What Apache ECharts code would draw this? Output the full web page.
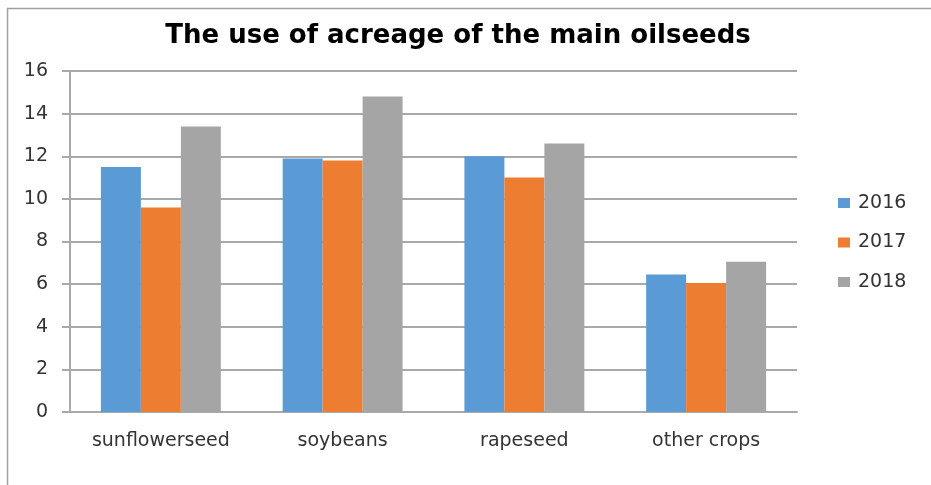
<!DOCTYPE html>
<html>
<head>
<meta charset="utf-8">
<script src="https://cdn.jsdelivr.net/npm/echarts@6/dist/echarts.min.js"></script>
<style>
  html, body { margin: 0; padding: 0; background: #fff; }
  #chart { width: 931px; height: 485px; }
</style>
</head>
<body>
<div id="chart"></div>
<script>
// data
const categories = ['sunflowerseed', 'soybeans', 'rapeseed', 'other crops']
const years = ['2016', '2017', '2018']
const values2016 = [11.5, 11.9, 12.0, 6.45]
const values2017 = [9.6, 11.8, 11.0, 6.05]
const values2018 = [13.4, 14.8, 12.6, 7.05]
const yTicks = [0, 2, 4, 6, 8, 10, 12, 14, 16]

const colors = ['#5b9bd5', '#ed7d31', '#a5a5a5']
const FONT = 'DejaVu Sans'
const TEXT = '#333'
const LINE = '#a9a9a9'

const chart = echarts.init(document.getElementById('chart'), null, { renderer: 'canvas' })

const seriesValues = [values2016, values2017, values2018]

chart.setOption({
  animation: false,
  backgroundColor: '#fff',
  color: colors,
  title: {
    text: 'The use of acreage of the main oilseeds',
    left: 453,
    top: 18,
    textAlign: 'center',
    textStyle: { fontFamily: FONT, fontSize: 26, fontWeight: 'bold', color: '#000' }
  },
  legend: {
    orient: 'vertical',
    left: 833,
    top: 188,
    itemWidth: 12,
    itemHeight: 10,
    itemGap: 19.5,
    icon: 'rect',
    textStyle: { fontFamily: FONT, fontSize: 19, color: TEXT, lineHeight: 20, padding: [0, 0, 0, 3] },
    data: years
  },
  grid: { left: 70, right: 134, top: 71, bottom: 73, containLabel: false },
  xAxis: {
    type: 'category',
    data: categories,
    axisLine: { lineStyle: { color: LINE, width: 2 } },
    axisTick: { show: false },
    axisLabel: { fontFamily: FONT, fontSize: 19, color: TEXT, margin: 20 }
  },
  yAxis: {
    type: 'value',
    min: yTicks[0],
    max: yTicks[yTicks.length - 1],
    interval: 2,
    axisLine: { show: true, lineStyle: { color: LINE, width: 2 } },
    axisTick: { show: true, length: 8, lineStyle: { color: LINE, width: 2 } },
    splitLine: { lineStyle: { color: LINE, width: 2 } },
    axisLabel: { fontFamily: FONT, fontSize: 19, color: TEXT, margin: 22 }
  },
  graphic: [{
    type: 'polyline',
    shape: { points: [[7.5, 485], [7.5, 8.5], [931, 8.5]] },
    style: { stroke: '#a0a0a0', lineWidth: 1.5, fill: null },
    silent: true
  }],
  series: years.map((y, i) => ({
    name: y,
    type: 'bar',
    data: seriesValues[i],
    barGap: '0%',
    barCategoryGap: '34%'
  }))
})
</script>
</body>
</html>
